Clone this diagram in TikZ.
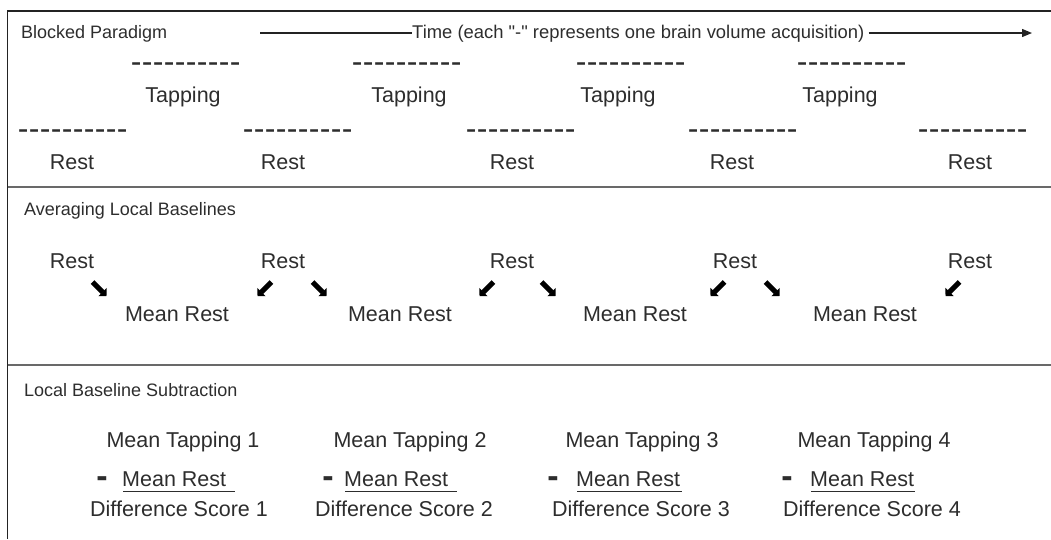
\documentclass[tikz,border=0pt]{standalone}
\usepackage{fontspec}
\setmainfont{Liberation Sans}
\usetikzlibrary{arrows.meta}
\definecolor{txt}{RGB}{45,45,45}
\definecolor{framec}{RGB}{35,35,35}
\definecolor{sepc}{RGB}{105,105,105}
\newcommand\bigf{\fontsize{21.5}{24}\selectfont}
\newcommand\smallf{\fontsize{18}{20}\selectfont}
\newcommand\timef{\fontsize{18.4}{20}\selectfont}
\newcommand\dashf{\fontsize{32}{34}\selectfont}
\newcommand\minusf{\fontsize{34}{36}\selectfont\bfseries}
\newcommand\dk{\kern0.35pt}
\newcommand\dashrow{-\dk-\dk-\dk-\dk-\dk-\dk-\dk-\dk-\dk-}
\newcommand\sq{\XeTeXglyph\XeTeXcharglyph"22\relax}
\tikzset{
  big/.style={anchor=base, inner sep=0pt, text=txt, font=\bigf},
  smalltxt/.style={anchor=base west, inner sep=0pt, text=txt, font=\smallf},
  dashtxt/.style={anchor=base west, inner sep=0pt, text=txt, font=\dashf},
  minustxt/.style={anchor=base, inner sep=0pt, text=txt, font=\minusf},
  diagarrow/.style={line width=5.2pt, black, -{Triangle[angle=90:8pt]}},
  ulline/.style={line width=1.3pt, txt},
  frameline/.style={line width=1.5pt, framec},
  sepline/.style={line width=1.8pt, sepc},
  timeline/.style={line width=1.2pt, framec}
}
\begin{document}
\begin{tikzpicture}[x=1pt, y=-1pt]
\useasboundingbox (0,0) rectangle (1051,539);
% frame and separators
\draw[frameline] (1051,11) -- (7.5,11) -- (7.5,539);
\draw[sepline] (7.5,187) -- (1051,187);
\draw[sepline] (7.5,365) -- (1051,365);

% ---------- Section 1: Blocked Paradigm
\node[smalltxt] (h1) at (21,38.5) {Blocked Paradigm};
\node[smalltxt, font=\timef] (time) at (412,38.5) {Time (each \sq-\sq{} represents one brain volume acquisition)};
\coordinate (tl) at (260,33);
\coordinate (tr) at (1032,33);
\draw[timeline] (tl) -- (tl -| time.west);
\draw[timeline, -{Triangle[length=10pt,width=8pt]}, shorten <=4pt] (tr -| time.east) -- (tr);

\node[dashtxt] (td1) at (130.6,72.6) {\dashrow};
\node[dashtxt] (td2) at (351.6,72.6) {\dashrow};
\node[dashtxt] (td3) at (575.6,72.6) {\dashrow};
\node[dashtxt] (td4) at (796.6,72.6) {\dashrow};
\node[big] (tap1) at (183,102.5) {Tapping};
\node[big] (tap2) at (409,102.5) {Tapping};
\node[big] (tap3) at (618,102.5) {Tapping};
\node[big] (tap4) at (840,102.5) {Tapping};

\node[dashtxt] (rd1) at (17.6,139.6) {\dashrow};
\node[dashtxt] (rd2) at (242.6,139.6) {\dashrow};
\node[dashtxt] (rd3) at (465.6,139.6) {\dashrow};
\node[dashtxt] (rd4) at (687.6,139.6) {\dashrow};
\node[dashtxt] (rd5) at (917.6,139.6) {\dashrow};
\node[big] (r1) at (72,169.5) {Rest};
\node[big] (r2) at (283,169.5) {Rest};
\node[big] (r3) at (512,169.5) {Rest};
\node[big] (r4) at (732,169.5) {Rest};
\node[big] (r5) at (970,169.5) {Rest};

% ---------- Section 2: Averaging Local Baselines
\node[smalltxt] (h2) at (24,215.5) {Averaging Local Baselines};
\node[big] (b1) at (72,268.5) {Rest};
\node[big] (b2) at (283,268.5) {Rest};
\node[big] (b3) at (512,268.5) {Rest};
\node[big] (b4) at (735,268.5) {Rest};
\node[big] (b5) at (970,268.5) {Rest};
\node[big] (m1) at (177,321.5) {Mean Rest};
\node[big] (m2) at (400,321.5) {Mean Rest};
\node[big] (m3) at (635,321.5) {Mean Rest};
\node[big] (m4) at (865,321.5) {Mean Rest};

\foreach \n/\cx in {1/99, 3/319, 5/548, 7/772}{
  \coordinate (a\n s) at (\cx-6.5,282);
  \coordinate (a\n e) at (\cx+7.5,296);
  \draw[diagarrow] (a\n s) -- (a\n e);
}
\foreach \n/\cx in {2/265, 4/487, 6/718, 8/953}{
  \coordinate (a\n s) at (\cx+6.5,282);
  \coordinate (a\n e) at (\cx-7.5,296);
  \draw[diagarrow] (a\n s) -- (a\n e);
}

% ---------- Section 3: Local Baseline Subtraction
\node[smalltxt] (h3) at (24,396.5) {Local Baseline Subtraction};
\node[big] (mt1) at (183,447) {Mean Tapping 1};
\node[big] (mt2) at (410,447) {Mean Tapping 2};
\node[big] (mt3) at (642,447) {Mean Tapping 3};
\node[big] (mt4) at (874,447) {Mean Tapping 4};

\node[minustxt] (mi1) at (102,487.5) {-};
\node[minustxt] (mi2) at (328,487.5) {-};
\node[minustxt] (mi3) at (553,487.5) {-};
\node[minustxt] (mi4) at (787,487.5) {-};

\node[big, anchor=base west] (mr1) at (122,486.7) {Mean Rest};
\node[big, anchor=base west] (mr2) at (344,486.7) {Mean Rest};
\node[big, anchor=base west] (mr3) at (576,486.7) {Mean Rest};
\node[big, anchor=base west] (mr4) at (810,486.7) {Mean Rest};
\draw[ulline] (mr1.base west) ++(1,5) -- ++(112,0);
\draw[ulline] (mr2.base west) ++(1,5) -- ++(112,0);
\draw[ulline] (mr3.base west) ++(1,5) -- ++(105,0);
\draw[ulline] (mr4.base west) ++(1,5) -- ++(104,0);

\node[big] (d1) at (179,516) {Difference Score 1};
\node[big] (d2) at (404,516) {Difference Score 2};
\node[big] (d3) at (641,516) {Difference Score 3};
\node[big] (d4) at (872,516) {Difference Score 4};
\end{tikzpicture}
\end{document}
